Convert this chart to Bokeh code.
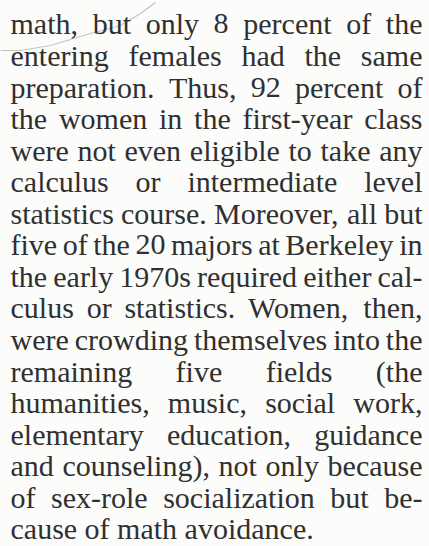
from bokeh.plotting import figure
from bokeh.models import Range1d, ColumnDataSource
from bokeh.core.properties import value
from bokeh.embed import file_html
from bokeh.resources import INLINE

# ---- content -------------------------------------------------------------
LINES = [
    "math, but only 8 percent of the",
    "entering females had the same",
    "preparation. Thus, 92 percent of",
    "the women in the first-year class",
    "were not even eligible to take any",
    "calculus or intermediate level",
    "statistics course. Moreover, all but",
    "five of the 20 majors at Berkeley in",
    "the early 1970s required either cal-",
    "culus or statistics. Women, then,",
    "were crowding themselves into the",
    "remaining five fields (the",
    "humanities, music, social work,",
    "elementary education, guidance",
    "and counseling), not only because",
    "of sex-role socialization but be-",
    "cause of math avoidance.",
]
# faint pencil stroke across the top-left of the scan
ARC_X = [0, 20, 50, 90, 120, 140, 155]
ARC_Y = [50, 50, 45, 33, 25, 13, 2]

# ---- layout --------------------------------------------------------------
FONT = "Liberation Serif"
FS = 30.0
LEFT, RIGHT = 10.0, 422.0
BASE0, LEAD = 33.0, 31.56
SHIFT = 0.32 * FS          # renderer places "alphabetic" text this much lower
INK = "#303030"
PAPER = "#fcfcfb"

# approximate advance widths (1/1000 em) for a Times-metric serif
W = {' ': 250, ',': 250, '.': 250, '-': 333, '(': 333, ')': 333,
     'a': 444, 'b': 500, 'c': 444, 'd': 500, 'e': 444, 'f': 333, 'g': 500,
     'h': 500, 'i': 278, 'j': 278, 'k': 500, 'l': 278, 'm': 778, 'n': 500,
     'o': 500, 'p': 500, 'q': 500, 'r': 333, 's': 389, 't': 278, 'u': 500,
     'v': 500, 'w': 722, 'x': 500, 'y': 500, 'z': 444,
     'B': 667, 'M': 889, 'T': 611, 'W': 944}


def width(word):
    return sum(W.get(c, 500) for c in word) / 1000.0 * FS


left = dict(x=[], y=[], t=[])
right = dict(x=[], y=[], t=[])
for i, line in enumerate(LINES):
    base = BASE0 + i * LEAD - SHIFT
    words = line.split()
    if i == len(LINES) - 1 or len(words) == 1:
        left["x"].append(LEFT); left["y"].append(base); left["t"].append(line)
        continue
    ws = [width(w) for w in words]
    gap = (RIGHT - LEFT - sum(ws)) / (len(words) - 1)
    x = LEFT
    for j, w in enumerate(words):
        if j == len(words) - 1:
            right["x"].append(RIGHT); right["y"].append(base); right["t"].append(w)
        else:
            left["x"].append(x); left["y"].append(base); left["t"].append(w)
        x += ws[j] + gap

p = figure(width=429, height=546, output_backend="svg", toolbar_location=None,
           x_range=Range1d(0, 429), y_range=Range1d(546, 0),
           min_border=0, min_border_left=0, min_border_right=0,
           min_border_top=0, min_border_bottom=0)
p.axis.visible = False
p.grid.visible = False
p.outline_line_color = None
p.background_fill_color = PAPER
p.border_fill_color = PAPER

p.line(ARC_X, ARC_Y, line_color="#b5b5b5", line_width=1.2, line_alpha=0.8)

for src, align in ((left, "left"), (right, "right")):
    p.text(x="x", y="y", text="t", source=ColumnDataSource(src),
           text_font=value(FONT), text_font_size=f"{FS:.0f}px",
           text_color=INK, text_align=align, text_baseline="alphabetic")

open("out.html", "w").write(file_html(p, INLINE))
